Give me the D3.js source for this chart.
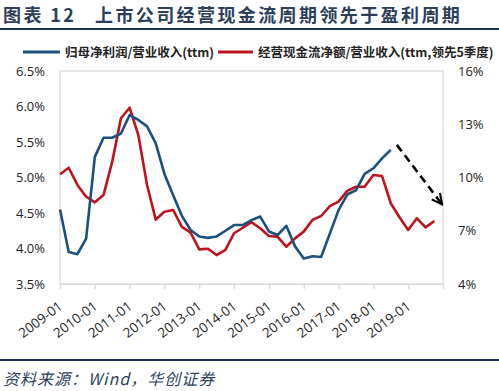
<!DOCTYPE html>
<html><head><meta charset="utf-8">
<script src="https://cdn.jsdelivr.net/npm/d3@7/dist/d3.min.js"></script>
<style>
html,body{margin:0;padding:0;background:#fff;}
svg{display:block;}
</style></head>
<body>
<svg id="chart" width="499" height="391"></svg>
<script>
const titleText = "图表 12";
const titleMain = "上市公司经营现金流周期领先于盈利周期";
const sourceText = "资料来源：Wind，华创证券";
const seriesNames = ["归母净利润/营业收入(ttm)", "经营现金流净额/营业收入(ttm,领先5季度)"];
const categories = [
 "2009-01","2009-04","2009-07","2009-10","2010-01","2010-04","2010-07","2010-10",
 "2011-01","2011-04","2011-07","2011-10","2012-01","2012-04","2012-07","2012-10",
 "2013-01","2013-04","2013-07","2013-10","2014-01","2014-04","2014-07","2014-10",
 "2015-01","2015-04","2015-07","2015-10","2016-01","2016-04","2016-07","2016-10",
 "2017-01","2017-04","2017-07","2017-10","2018-01","2018-04","2018-07","2018-10",
 "2019-01","2019-04","2019-07","2019-10"];
const tickLabels = ["2009-01","2010-01","2011-01","2012-01","2013-01","2014-01","2015-01","2016-01","2017-01","2018-01","2019-01"];
const profitMargin = [4.55,3.95,3.92,4.14,5.29,5.56,5.56,5.62,5.88,5.81,5.72,5.48,5.05,4.75,4.46,4.26,
 4.17,4.15,4.17,4.25,4.33,4.33,4.40,4.45,4.24,4.19,4.32,4.03,3.86,3.89,3.88,4.21,4.54,4.76,4.82,5.05,
 5.13,5.27,5.39,null,null,null,null,null];
const cashFlowMargin = [10.18,10.55,9.58,8.92,8.60,9.01,10.89,13.34,13.93,12.39,9.58,7.63,8.07,8.17,7.22,6.89,
 5.95,5.99,5.63,5.92,6.86,7.17,7.48,7.14,6.70,6.66,6.10,6.57,6.95,7.61,7.83,8.39,8.64,9.25,9.48,9.48,
 10.14,10.08,8.55,7.76,7.04,7.70,7.19,7.55];
const leftTicks = [3.5,4.0,4.5,5.0,5.5,6.0,6.5];
const rightTicks = [4,7,10,13,16];

const svg = d3.select("#chart");
const L = 60, R = 443, T = 71, B = 284;
const colBlue = "#19507f", colRed = "#c0121c", navy = "#1c2f52";
const font = "'Open Sans','Noto Sans CJK SC',sans-serif";
const cjk = "'Noto Sans CJK SC','Noto Sans',sans-serif";

const x = d3.scaleLinear().domain([0, categories.length]).range([L, R]);
const yL = d3.scaleLinear().domain([3.5, 6.5]).range([B, T]);
const yR = d3.scaleLinear().domain([4, 16]).range([B, T]);

// title
const tt = svg.append("text").attr("x", 3).attr("y", 21.5).attr("fill", "#2b3f5c")
  .attr("font-family", cjk).attr("font-size", 18).attr("font-weight", "bold")
  .attr("letter-spacing", 2.4);
tt.append("tspan").text(titleText);
tt.append("tspan").attr("x", 95).text(titleMain);
svg.append("line").attr("x1", 0).attr("x2", 499).attr("y1", 29).attr("y2", 29)
  .attr("stroke", navy).attr("stroke-width", 2);
svg.append("line").attr("x1", 0).attr("x2", 499).attr("y1", 360).attr("y2", 360)
  .attr("stroke", navy).attr("stroke-width", 2);
svg.append("text").attr("x", 3).attr("y", 385).attr("fill", "#2b3f5c")
  .attr("font-family", cjk).attr("font-size", 16).attr("font-style", "italic")
  .attr("letter-spacing", 1).text(sourceText);

// legend
const legend = [{x1: 23, x2: 60, tx: 65, c: colBlue, t: seriesNames[0]},
                {x1: 218, x2: 253, tx: 258, c: colRed, t: seriesNames[1]}];
legend.forEach(d => {
  svg.append("line").attr("x1", d.x1).attr("x2", d.x2).attr("y1", 52).attr("y2", 52)
    .attr("stroke", d.c).attr("stroke-width", 3);
  svg.append("text").attr("x", d.tx).attr("y", 56.5).attr("font-family", cjk)
    .attr("font-size", 12.5).attr("font-weight", "bold").attr("fill", "#222").text(d.t);
});

// frame
svg.append("rect").attr("x", L).attr("y", T).attr("width", R - L).attr("height", B - T)
  .attr("fill", "none").attr("stroke", "#d9d9d9").attr("stroke-width", 1.2);

// x axis
const xAxis = d3.axisBottom(x)
  .tickValues(tickLabels.map(t => categories.indexOf(t)).concat([categories.length]))
  .tickFormat(i => categories[i] && tickLabels.includes(categories[i]) ? categories[i] : "")
  .tickSize(5).tickSizeOuter(0);
const gx = svg.append("g").attr("transform", `translate(0,${B})`).call(xAxis);
gx.select(".domain").attr("stroke", "#d9d9d9").attr("stroke-width", 1.2);
gx.selectAll(".tick line").attr("stroke", "#d9d9d9").attr("stroke-width", 1.2);
gx.selectAll(".tick text").attr("font-family", font).attr("font-size", 13.5).attr("fill", "#222")
  .attr("text-anchor", "end").attr("dy", 0)
  .attr("transform", "translate(3,24) rotate(-37)").attr("y", 0).attr("x", 0);

// left axis
const gl = svg.append("g").attr("transform", `translate(${L},0)`)
  .call(d3.axisLeft(yL).tickValues(leftTicks).tickFormat(d => d.toFixed(1) + "%").tickSize(0).tickPadding(15));
gl.select(".domain").remove();
gl.selectAll("text").attr("font-family", font).attr("font-size", 13).attr("fill", "#222");

// right axis
const gr = svg.append("g").attr("transform", `translate(${R},0)`)
  .call(d3.axisRight(yR).tickValues(rightTicks).tickFormat(d => d + "%").tickSize(0).tickPadding(15));
gr.select(".domain").remove();
gr.selectAll("text").attr("font-family", font).attr("font-size", 13).attr("fill", "#222");

// lines
const lineL = d3.line().defined(d => d != null).x((d, i) => x(i)).y(d => yL(d));
const lineR = d3.line().defined(d => d != null).x((d, i) => x(i)).y(d => yR(d));
svg.append("path").datum(cashFlowMargin).attr("d", lineR).attr("fill", "none")
  .attr("stroke", colRed).attr("stroke-width", 2.6).attr("stroke-linejoin", "round");
svg.append("path").datum(profitMargin).attr("d", lineL).attr("fill", "none")
  .attr("stroke", colBlue).attr("stroke-width", 2.6).attr("stroke-linejoin", "round");

// dashed arrow annotation
const arrowStart = [38.7, 5.46], arrowEnd = [43.9, 4.62];
svg.append("defs").append("marker").attr("id", "ah").attr("viewBox", "0 0 10 10")
  .attr("refX", 9).attr("refY", 5).attr("markerWidth", 5).attr("markerHeight", 5)
  .attr("orient", "auto").attr("markerUnits", "strokeWidth")
  .append("path").attr("d", "M1,1 L9,5 L1,9").attr("fill", "none").attr("stroke", "#000").attr("stroke-width", 1.6);
svg.append("line").attr("x1", x(arrowStart[0])).attr("y1", yL(arrowStart[1]))
  .attr("x2", x(arrowEnd[0])).attr("y2", yL(arrowEnd[1]))
  .attr("stroke", "#000").attr("stroke-width", 2.6).attr("stroke-dasharray", "8,5")
  .attr("marker-end", "url(#ah)");
</script>
</body></html>
